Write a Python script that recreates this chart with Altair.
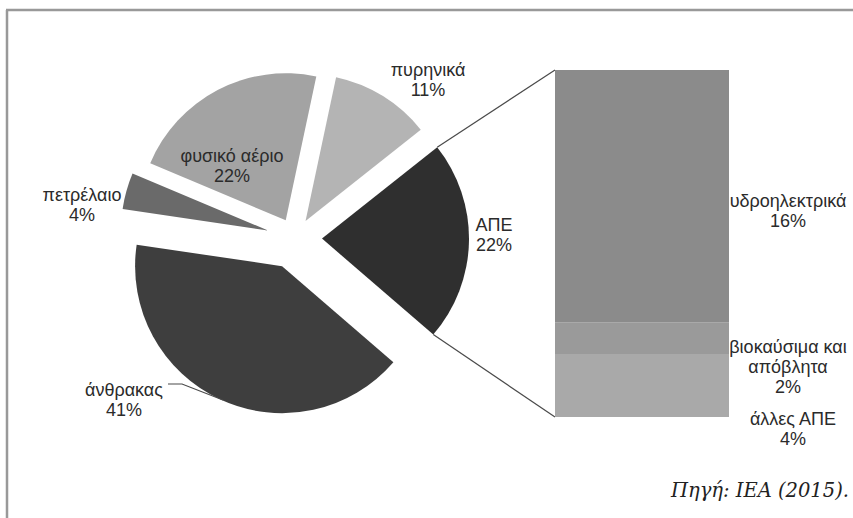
import math

import altair as alt
import pandas as pd

W, H = 853, 518

# Energy mix shares (%), clockwise from the top
pie_names = ["πυρηνικά", "ΑΠΕ", "άνθρακας", "πετρέλαιο", "φυσικό αέριο"]
pie_values = [11, 22, 41, 4, 22]

# Breakdown of the renewables (ΑΠΕ) slice, bottom to top of the bar
ape_names = ["άλλες ΑΠΕ", "βιοκαύσιμα και απόβλητα", "υδροηλεκτρικά"]
ape_values = [4, 2, 16]

# --- styling -------------------------------------------------------------
pie_colors = ["#b4b4b4", "#2f2f2f", "#3e3e3e", "#6a6a6a", "#a3a3a3"]
pie_explode = [20, 27, 31, 28, 20]          # radial offset of each slice (px)
pie_label_xy = [(428, 71), (494, 226), (124, 391), (82, 196), (232, 157)]
pie_label_text = ["πυρηνικά", "ΑΠΕ", "άνθρακας", "πετρέλαιο", "φυσικό αέριο"]

ape_colors = ["#a9a9a9", "#9a9a9a", "#8b8b8b"]
ape_label_text = ["άλλες ΑΠΕ", "βιοκαύσιμα και\nαπόβλητα", "υδροηλεκτρικά"]
ape_label_xy = [(793, 420), (788, 348), (788, 202)]

CX, CY, R = 295, 238, 147                   # pie centre and radius
START = math.radians(12)                    # angle where the first slice begins
BAR_X0, BAR_X1, BAR_TOP, BAR_BOTTOM = 555, 729, 70, 417

FONT = "Liberation Sans"
FONT_SIZE = 18
TEXT_COLOR = "#2b2b2b"

# --- pie table -----------------------------------------------------------
rows = []
cum = 0
for i, (name, v) in enumerate(zip(pie_names, pie_values)):
    t0, t1 = cum, cum + v
    cum = t1
    mid = START + (t0 + t1) / 2 / 100 * 2 * math.pi
    d = pie_explode[i]
    rows.append(
        dict(
            name=name,
            t0=t0,
            t1=t1,
            px=CX + d * math.sin(mid),
            py=CY - d * math.cos(mid),
            fill=pie_colors[i],
            label=f"{pie_label_text[i]}\n{v}%",
            lx=pie_label_xy[i][0],
            ly=pie_label_xy[i][1],
        )
    )
pie_df = pd.DataFrame(rows)

# --- bar table -----------------------------------------------------------
brows = []
cum = 0
for i, (name, v) in enumerate(zip(ape_names, ape_values)):
    brows.append(
        dict(
            name=name,
            b0=cum,
            b1=cum + v,
            fill=ape_colors[i],
            label=f"{ape_label_text[i]}\n{v}%",
            lx=ape_label_xy[i][0],
            ly=ape_label_xy[i][1],
        )
    )
    cum += v
bar_df = pd.DataFrame(brows)
bar_total = cum

# --- connectors from the ΑΠΕ slice edges to the bar ----------------------
k = pie_names.index("ΑΠΕ")
ape = rows[k]
a_top = START + ape["t0"] / 100 * 2 * math.pi
a_bot = START + ape["t1"] / 100 * 2 * math.pi
conn_df = pd.DataFrame(
    [
        dict(x=ape["px"] + R * math.sin(a_top), y=ape["py"] - R * math.cos(a_top),
             x2=BAR_X0, y2=BAR_TOP),
        dict(x=ape["px"] + R * math.sin(a_bot), y=ape["py"] - R * math.cos(a_bot),
             x2=BAR_X0, y2=BAR_BOTTOM),
    ]
)

# leader line for the coal label
leader_df = pd.DataFrame(
    dict(x=[168, 182, 223], y=[384, 384, 400], o=[0, 1, 2])
)

px_x = lambda f: alt.X(f, type="quantitative", scale=None, axis=None)
px_y = lambda f: alt.Y(f, type="quantitative", scale=None, axis=None)

pie = alt.Chart(pie_df).mark_arc(radius=R).encode(
    x=px_x("px"),
    y=px_y("py"),
    theta=alt.Theta(
        "t0:Q", scale=alt.Scale(domain=[0, 100], range=[START, START + 2 * math.pi])
    ),
    theta2="t1:Q",
    color=alt.Color("fill:N", scale=None),
)

pie_text = alt.Chart(pie_df).mark_text(
    font=FONT, fontSize=FONT_SIZE, lineBreak="\n", lineHeight=20,
    align="center", baseline="middle", color=TEXT_COLOR,
).encode(x=px_x("lx"), y=px_y("ly"), text="label:N")

bar = alt.Chart(bar_df).mark_rect().encode(
    x=alt.value(BAR_X0),
    x2=alt.value(BAR_X1),
    y=alt.Y("b0:Q", scale=alt.Scale(domain=[0, bar_total], range=[BAR_BOTTOM, BAR_TOP]),
            axis=None),
    y2="b1:Q",
    color=alt.Color("fill:N", scale=None),
)

bar_text = alt.Chart(bar_df).mark_text(
    font=FONT, fontSize=FONT_SIZE, lineBreak="\n", lineHeight=20,
    align="center", baseline="middle", color=TEXT_COLOR,
).encode(x=px_x("lx"), y=px_y("ly"), text="label:N")

connectors = alt.Chart(conn_df).mark_rule(color="#4a4a4a", strokeWidth=1.2).encode(
    x=px_x("x"), y=px_y("y"), x2="x2:Q", y2="y2:Q"
)

leader = alt.Chart(leader_df).mark_line(color="#4a4a4a", strokeWidth=1.2).encode(
    x=px_x("x"), y=px_y("y"), order="o:Q"
)

source = alt.Chart(pd.DataFrame({"t": ["Πηγή: IEA (2015)."]})).mark_text(
    font="DejaVu Serif", fontStyle="italic", fontSize=19.5,
    align="right", baseline="alphabetic", color="#222222",
).encode(x=alt.value(849), y=alt.value(497), text="t:N")

frame_top = alt.Chart(pd.DataFrame({"k": [0]})).mark_rule(
    color="#999999", strokeWidth=2.5
).encode(x=alt.value(6), x2=alt.value(W), y=alt.value(10))

frame_left = alt.Chart(pd.DataFrame({"k": [0]})).mark_rule(
    color="#999999", strokeWidth=2.5
).encode(x=alt.value(7), y=alt.value(10), y2=alt.value(H))

chart = (
    alt.layer(frame_top, frame_left, connectors, pie, bar, leader,
              pie_text, bar_text, source)
    .resolve_scale(y="independent")
    .properties(width=W, height=H, autosize="none", padding=0, background="white")
    .configure_view(strokeWidth=0)
)

chart.save("out.html", embed_options={"renderer": "svg", "actions": False})
